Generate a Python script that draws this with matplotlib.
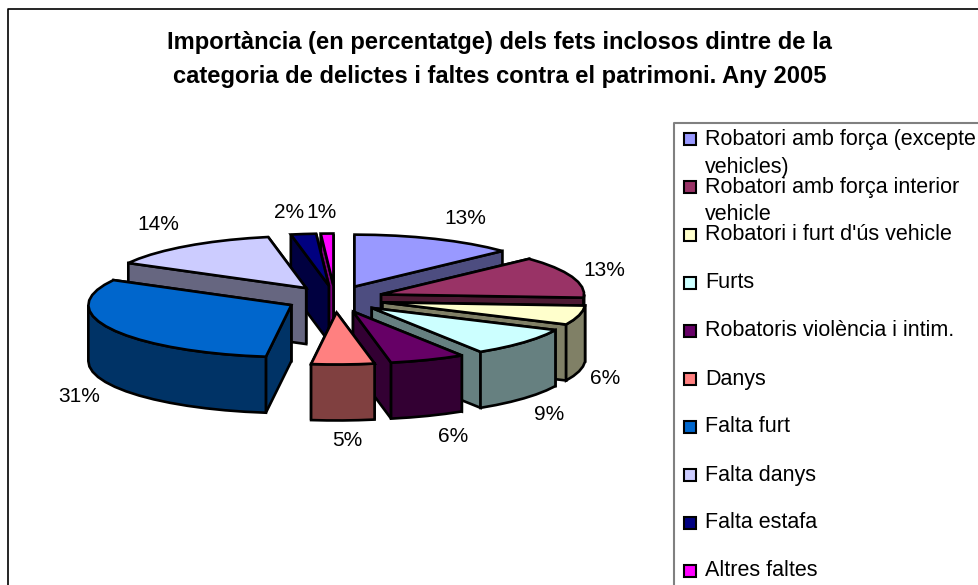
import numpy as np
import matplotlib
matplotlib.use("Agg")
import matplotlib.pyplot as plt

plt.rcParams['font.family'] = ['Liberation Sans', 'DejaVu Sans']

categories = ["Robatori amb força (excepte\nvehicles)", "Robatori amb força interior\nvehicle",
              "Robatori i furt d'ús vehicle", "Furts", "Robatoris violència i intim.", "Danys",
              "Falta furt", "Falta danys", "Falta estafa", "Altres faltes"]
values = [13, 13, 6, 9, 6, 5, 31, 14, 2, 1]
colors = ['#9999FF', '#993366', '#FFFFCC', '#CCFFFF', '#660066',
          '#FF8080', '#0066CC', '#CCCCFF', '#000080', '#FF00FF']
dark = ['#4D4D80', '#4D1A33', '#808066', '#668080', '#330033',
        '#804040', '#003366', '#666680', '#000040', '#800080']

# where the percent labels sit, in pixels
label_x = [465, 604, 605, 549, 453, 347, 79, 158, 289, 322]
label_y = [218, 270, 378, 415, 437, 441, 396, 225, 212, 212]

# fake 3d pie geometry, in pixels
cx, cy = 335, 299
rx, ry = 203, 52
ex, ey = 49, 13.5
depth = 56
draw_order = [9, 8, 0, 7, 1, 2, 6, 3, 4, 5]

fig = plt.figure(figsize=(9.79, 5.85), dpi=100)
ax = fig.add_axes([0, 0, 1, 1])
ax.set_xlim(0, 979)
ax.set_ylim(585, 0)
ax.axis('off')

# outer and legend frames
ax.plot([8, 8, 979], [585, 9, 9], color='black', lw=1.2)
ax.plot([674, 674, 979], [585, 123, 123], color='#808080', lw=1.5)

ax.text(499.5, 42, "Importància (en percentatge) dels fets inclosos dintre de la",
        ha='center', va='center', fontsize=17.1, fontweight='bold')
ax.text(499.5, 76, "categoria de delictes i faltes contra el patrimoni. Any 2005",
        ha='center', va='center', fontsize=17.1, fontweight='bold')

# the slices
edges = np.cumsum([0] + values) / sum(values) * 360


def arc(x0, y0, a, b):
    t = np.radians(np.linspace(a, b, max(2, int((b - a) / 6) + 2)))
    return x0 + rx * np.sin(t), y0 - ry * np.cos(t)


for i in draw_order:
    a, b = edges[i], edges[i + 1]
    mid = np.radians((a + b) / 2)
    x0 = cx + ex * np.sin(mid)
    y0 = cy - ey * np.cos(mid)
    xs, ys = arc(x0, y0, a, b)

    # cut faces first (back one before front one), then the rim, then the top
    faces = sorted([(ys[0], xs[0]), (ys[-1], xs[-1])])
    for py, px in faces:
        ax.fill([x0, px, px, x0], [y0, py, py + depth, y0 + depth],
                facecolor=dark[i], edgecolor='black', lw=1.9, joinstyle='miter')
    lo, hi = max(a, 90), min(b, 270)
    if lo < hi:
        rimx, rimy = arc(x0, y0, lo, hi)
        ax.fill(np.r_[rimx, rimx[::-1]], np.r_[rimy, rimy[::-1] + depth],
                facecolor=dark[i], edgecolor='black', lw=1.9, joinstyle='miter')
    ax.fill(np.r_[x0, xs], np.r_[y0, ys], facecolor=colors[i],
            edgecolor='black', lw=1.9, joinstyle='miter')

for v, x, y in zip(values, label_x, label_y):
    ax.text(x, y, f"{v}%", ha='center', va='center', fontsize=15)

# legend, drawn by hand because it runs off the canvas
for i, name in enumerate(categories):
    y = 139 + 48 * i
    ax.add_patch(plt.Rectangle((684, y - 6), 12, 12, facecolor=colors[i],
                               edgecolor='black', lw=1.5))
    for j, line in enumerate(name.split("\n")):
        ax.text(705, y + 28 * j, line, ha='left', va='center', fontsize=15.5)

fig.savefig("out.png", dpi=100)
